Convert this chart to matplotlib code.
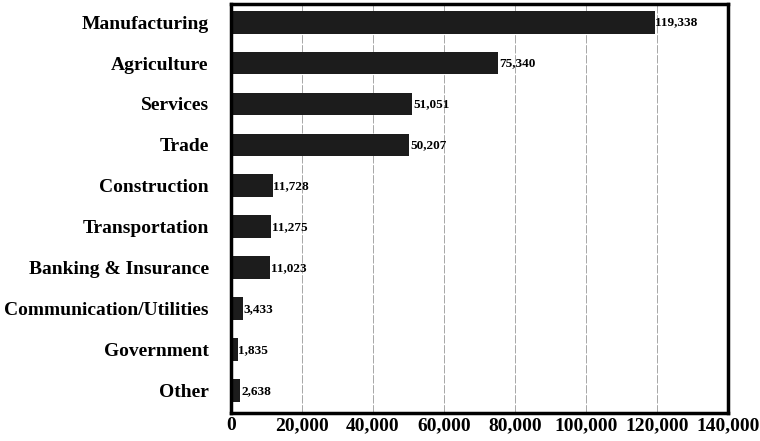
import numpy as np
import matplotlib.pyplot as plt

categories = ['Manufacturing', 'Agriculture', 'Services', 'Trade', 'Construction',
	'Transportation', 'Banking & Insurance', 'Communication/Utilities',
	'Government', 'Other']
values = [119338, 75340, 51051, 50207, 11728, 11275, 11023, 3433, 1835, 2638]
xticks = [0, 20000, 40000, 60000, 80000, 100000, 120000, 140000]

plt.rcParams['font.family'] = ['Liberation Serif', 'DejaVu Serif']
plt.rcParams['font.weight'] = 'bold'

fig = plt.figure(figsize=(7.6, 4.41), dpi=100)
ax = fig.add_axes([231/760, 1 - 413/441, (728-231)/760, (413-4)/441])

pos = np.arange(len(categories))
ax.barh(pos, values, height=0.56, color='#1c1c1c', zorder=2)

# value labels next to each bar
for p, v in zip(pos, values):
	ax.text(v + 200, p, '{:,}'.format(v), va='center', ha='left',
		fontsize=9.5, fontweight='bold', zorder=3)

ax.set_xlim(0, 140000)
ax.set_ylim(9.54, -0.44)
ax.set_xticks(xticks)
ax.set_xticklabels(['{:,}'.format(t) for t in xticks], fontsize=14, fontweight='bold')
ax.set_yticks(pos)
ax.set_yticklabels(categories, fontsize=14, fontweight='bold')
ax.tick_params(axis='y', length=0, pad=16)
ax.tick_params(axis='x', length=0, pad=3)

ax.grid(axis='x', color='#999999', linestyle=(0, (10, 2)), linewidth=0.6, zorder=1)
for s in ax.spines.values():
	s.set_linewidth(2.5)
	s.set_color('black')

fig.savefig('out.png', dpi=100)
